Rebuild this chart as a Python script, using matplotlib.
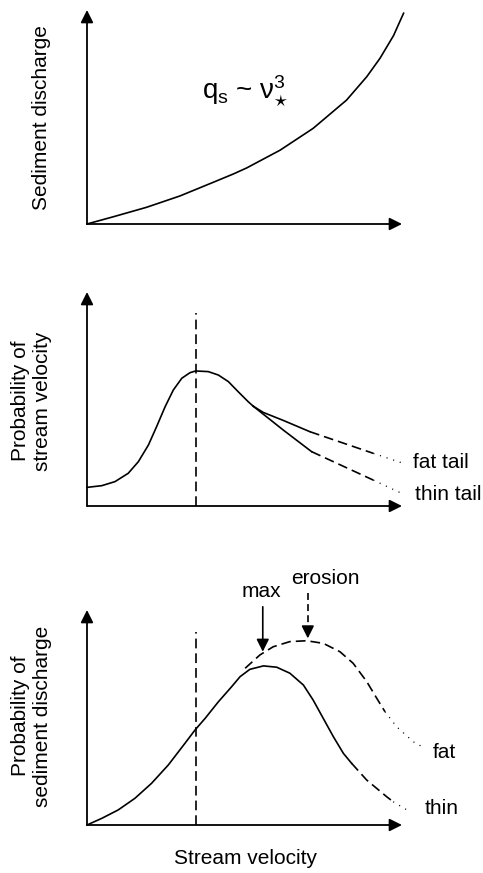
import matplotlib
matplotlib.use('Agg')
import matplotlib.pyplot as plt

plt.rcParams['font.family'] = ['Liberation Sans', 'DejaVu Sans']
plt.rcParams['mathtext.fontset'] = 'custom'
plt.rcParams['mathtext.rm'] = 'Liberation Sans'
plt.rcParams['mathtext.it'] = 'Liberation Sans'
plt.rcParams['mathtext.sf'] = 'Liberation Sans'
plt.rcParams['lines.scale_dashes'] = False

# ---------------- data (normalised axis units) ----------------
# Panel 1: sediment discharge vs stream velocity
vel1 = [0.0, 0.084, 0.189, 0.295, 0.401, 0.465, 0.507, 0.613, 0.718, 0.824, 0.888, 0.930, 0.973, 1.005]
qs1 = [0.0, 0.034, 0.078, 0.131, 0.195, 0.234, 0.262, 0.345, 0.447, 0.579, 0.688, 0.774, 0.880, 0.985]

# Panel 2: probability of stream velocity
vel2 = [0.0, 0.047, 0.089, 0.131, 0.163, 0.195, 0.221, 0.248, 0.274, 0.301, 0.327, 0.345,
        0.385, 0.417, 0.449, 0.480, 0.512, 0.528]
pv2 = [0.087, 0.095, 0.114, 0.153, 0.207, 0.285, 0.371, 0.464, 0.542, 0.597, 0.623, 0.631,
       0.628, 0.612, 0.581, 0.534, 0.487, 0.466]
fat2_solid_x = [0.528, 0.560, 0.623, 0.708]
fat2_solid_y = [0.466, 0.437, 0.400, 0.347]
fat2_dash_x = [0.708, 0.909]
fat2_dash_y = [0.347, 0.246]
fat2_dot_x = [0.909, 0.999]
fat2_dot_y = [0.246, 0.202]
thin2_solid_x = [0.528, 0.623, 0.713]
thin2_solid_y = [0.466, 0.355, 0.254]
thin2_dash_x = [0.713, 0.909]
thin2_dash_y = [0.254, 0.121]
thin2_dot_x = [0.909, 0.999]
thin2_dot_y = [0.121, 0.059]
mode_vel = 0.345
mode_top = 0.90

# Panel 3: probability of sediment discharge
vel3 = [0.0, 0.047, 0.099, 0.152, 0.205, 0.258, 0.311, 0.343, 0.375, 0.417, 0.459, 0.486,
        0.517, 0.560, 0.602, 0.644, 0.687, 0.718, 0.750, 0.782, 0.814, 0.840]
pq3 = [0.0, 0.031, 0.070, 0.124, 0.194, 0.279, 0.380, 0.442, 0.496, 0.573, 0.643, 0.690,
       0.724, 0.740, 0.734, 0.706, 0.651, 0.581, 0.496, 0.411, 0.333, 0.287]
thin3_dash_x = [0.840, 0.888, 0.951, 0.972]
thin3_dash_y = [0.287, 0.209, 0.132, 0.108]
thin3_dot_x = [0.972, 1.025]
thin3_dot_y = [0.108, 0.062]
fat3_dash_x = [0.502, 0.549, 0.591, 0.644, 0.697, 0.750, 0.803, 0.845, 0.888, 0.920, 0.946]
fat3_dash_y = [0.729, 0.791, 0.829, 0.853, 0.857, 0.845, 0.806, 0.752, 0.667, 0.589, 0.527]
fat3_dot_x = [0.946, 0.983, 1.036, 1.073]
fat3_dot_y = [0.527, 0.457, 0.387, 0.357]
max_vel = 0.558
erosion_vel = 0.701

# ---------------- figure ----------------
W, H = 483, 873
fig = plt.figure(figsize=(W / 100, H / 100), dpi=100)

def px_axes(x0, x1, ybot, ytop):
    return fig.add_axes([x0 / W, 1 - ybot / H, (x1 - x0) / W, (ybot - ytop) / H])

ax1 = px_axes(87, 402, 224, 10)
ax2 = px_axes(87, 402, 506, 292)
ax3 = px_axes(87, 402, 825, 610)

LW_AX = 1.3
LW = 1.2
DASH = (0, (7, 3.6))
DOT = (0, (0.8, 4.2))
FS = 15
ARROW = '-|>,head_length=0.5,head_width=0.25'

for ax in (ax1, ax2, ax3):
    ax.set_xlim(0, 1)
    ax.set_ylim(0, 1)
    ax.axis('off')
    arrow = dict(arrowstyle=ARROW, lw=LW_AX, color='black',
                 mutation_scale=15, shrinkA=0, shrinkB=0)
    ax.annotate('', xy=(1, 0), xytext=(0, 0), xycoords='axes fraction',
                textcoords='axes fraction', arrowprops=arrow, annotation_clip=False)
    ax.annotate('', xy=(0, 1), xytext=(0, 0), xycoords='axes fraction',
                textcoords='axes fraction', arrowprops=arrow, annotation_clip=False)

# Panel 1
ax1.plot(vel1, qs1, color='black', lw=LW, clip_on=False, solid_joinstyle='round')
ax1.text(0.364, 0.583, r'$\mathregular{q_s}$ ~ $\mathregular{\nu_{\star}^{3}}$', fontsize=20,
         ha='left', va='baseline')
fig.text(42 / W, 1 - 118 / H, 'Sediment discharge', rotation=90, ha='center', va='center', fontsize=FS)

# Panel 2
ax2.plot(vel2, pv2, color='black', lw=LW, clip_on=False, solid_joinstyle='round')
ax2.plot(fat2_solid_x, fat2_solid_y, color='black', lw=LW, solid_joinstyle='round')
ax2.plot(thin2_solid_x, thin2_solid_y, color='black', lw=LW, solid_joinstyle='round')
ax2.plot(fat2_dash_x, fat2_dash_y, color='black', lw=LW, linestyle=DASH)
ax2.plot(thin2_dash_x, thin2_dash_y, color='black', lw=LW, linestyle=DASH)
ax2.plot(fat2_dot_x, fat2_dot_y, color='black', lw=0.9, linestyle=DOT, clip_on=False)
ax2.plot(thin2_dot_x, thin2_dot_y, color='black', lw=0.9, linestyle=DOT, clip_on=False)
ax2.plot([mode_vel, mode_vel], [0, mode_top], color='black', lw=LW, linestyle=DASH)
ax2.text(1.035, fat2_dot_y[-1], 'fat tail', fontsize=FS, ha='left', va='center', clip_on=False)
ax2.text(1.042, thin2_dot_y[-1] - 0.005, 'thin tail', fontsize=FS, ha='left', va='center', clip_on=False)
fig.text(32 / W, 1 - 401 / H, 'Probability of\nstream velocity', rotation=90,
         ha='center', va='center', fontsize=FS, multialignment='center')

# Panel 3
ax3.plot(vel3, pq3, color='black', lw=LW, clip_on=False, solid_joinstyle='round')
ax3.plot(thin3_dash_x, thin3_dash_y, color='black', lw=LW, linestyle=DASH)
ax3.plot(thin3_dot_x, thin3_dot_y, color='black', lw=0.9, linestyle=DOT, clip_on=False)
ax3.plot(fat3_dash_x, fat3_dash_y, color='black', lw=LW, linestyle=DASH)
ax3.plot(fat3_dot_x, fat3_dot_y, color='black', lw=0.9, linestyle=DOT, clip_on=False)
ax3.plot([mode_vel, mode_vel], [0, mode_top], color='black', lw=LW, linestyle=DASH)
ax3.text(1.097, 0.335, 'fat', fontsize=FS, ha='left', va='center', clip_on=False)
ax3.text(1.072, 0.075, 'thin', fontsize=FS, ha='left', va='center', clip_on=False)

# max arrow (solid)
ax3.annotate('', xy=(max_vel, 0.806), xytext=(max_vel, 1.015), xycoords='data',
             arrowprops=dict(arrowstyle=ARROW, lw=LW, color='black',
                             mutation_scale=15, shrinkA=0, shrinkB=0), annotation_clip=False)
ax3.text(max_vel - 0.005, 1.085, 'max', fontsize=FS, ha='center', va='center', clip_on=False)
# erosion arrow (dashed shaft)
ax3.plot([erosion_vel, erosion_vel], [1.078, 0.90], color='black', lw=LW, linestyle=(0, (5, 3)),
         clip_on=False)
ax3.annotate('', xy=(erosion_vel, 0.868), xytext=(erosion_vel, 0.92), xycoords='data',
             arrowprops=dict(arrowstyle=ARROW, lw=LW, color='black',
                             mutation_scale=15, shrinkA=0, shrinkB=0), annotation_clip=False)
ax3.text(erosion_vel + 0.055, 1.147, 'erosion', fontsize=FS, ha='center', va='center', clip_on=False)

fig.text(32 / W, 1 - 716 / H, 'Probability of\nsediment discharge', rotation=90,
         ha='center', va='center', fontsize=FS, multialignment='center')
fig.text(245 / W, 1 - 859 / H, 'Stream velocity', ha='center', va='center', fontsize=FS)

fig.savefig('out.png', dpi=100)
